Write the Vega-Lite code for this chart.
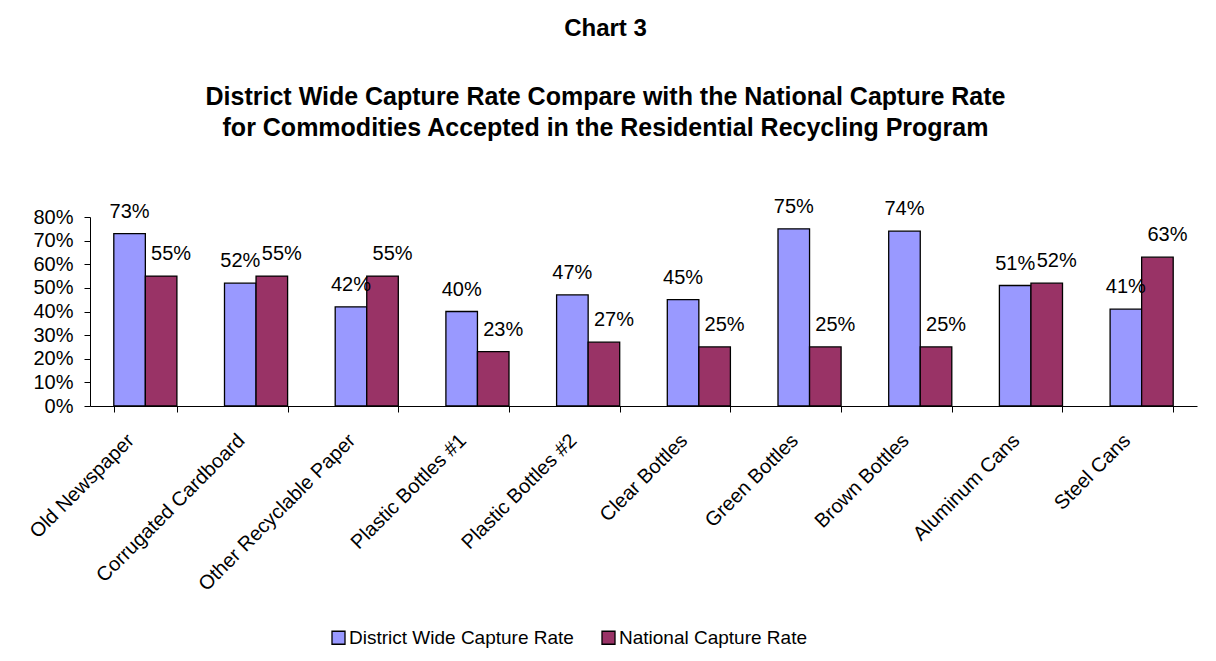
{
  "$schema": "https://vega.github.io/schema/vega-lite/v6.json",
  "width": 1107,
  "height": 189,
  "autosize": {"type": "none"},
  "padding": {"left": 90, "top": 217, "right": 19, "bottom": 255},
  "background": "white",
  "config": {
    "font": "Liberation Sans",
    "view": {"stroke": null},
    "axis": {"domainColor": "black", "tickColor": "black", "labelColor": "black", "grid": false, "labelFont": "Liberation Sans"}
  },
  "title": {
    "text": "Chart 3",
    "subtitle": ["District Wide Capture Rate Compare with the National Capture Rate", "for Commodities Accepted in the Residential Recycling Program"],
    "anchor": "middle",
    "frame": "group",
    "dx": -38,
    "font": "Liberation Sans",
    "fontSize": 24,
    "fontWeight": "bold",
    "color": "black",
    "subtitleFont": "Liberation Sans",
    "subtitleFontSize": 25,
    "subtitleFontWeight": "bold",
    "subtitleColor": "black",
    "subtitlePadding": 44,
    "subtitleLineHeight": 31,
    "offset": 56
  },
  "data": {
    "values": [
      {"commodity": "Old Newspaper", "series": "District Wide Capture Rate", "rate": 0.73},
      {"commodity": "Old Newspaper", "series": "National Capture Rate", "rate": 0.55},
      {"commodity": "Corrugated Cardboard", "series": "District Wide Capture Rate", "rate": 0.52},
      {"commodity": "Corrugated Cardboard", "series": "National Capture Rate", "rate": 0.55},
      {"commodity": "Other Recyclable Paper", "series": "District Wide Capture Rate", "rate": 0.42},
      {"commodity": "Other Recyclable Paper", "series": "National Capture Rate", "rate": 0.55},
      {"commodity": "Plastic Bottles #1", "series": "District Wide Capture Rate", "rate": 0.40},
      {"commodity": "Plastic Bottles #1", "series": "National Capture Rate", "rate": 0.23},
      {"commodity": "Plastic Bottles #2", "series": "District Wide Capture Rate", "rate": 0.47},
      {"commodity": "Plastic Bottles #2", "series": "National Capture Rate", "rate": 0.27},
      {"commodity": "Clear Bottles", "series": "District Wide Capture Rate", "rate": 0.45},
      {"commodity": "Clear Bottles", "series": "National Capture Rate", "rate": 0.25},
      {"commodity": "Green Bottles", "series": "District Wide Capture Rate", "rate": 0.75},
      {"commodity": "Green Bottles", "series": "National Capture Rate", "rate": 0.25},
      {"commodity": "Brown Bottles", "series": "District Wide Capture Rate", "rate": 0.74},
      {"commodity": "Brown Bottles", "series": "National Capture Rate", "rate": 0.25},
      {"commodity": "Aluminum Cans", "series": "District Wide Capture Rate", "rate": 0.51},
      {"commodity": "Aluminum Cans", "series": "National Capture Rate", "rate": 0.52},
      {"commodity": "Steel Cans", "series": "District Wide Capture Rate", "rate": 0.41},
      {"commodity": "Steel Cans", "series": "National Capture Rate", "rate": 0.63}
    ]
  },
  "encoding": {
    "x": {
      "field": "commodity",
      "type": "nominal",
      "sort": null,
      "scale": {"paddingInner": 0.43, "paddingOuter": 0.215},
      "axis": {"title": null, "labelAngle": -45, "labelFontSize": 20, "tickBand": "extent", "tickSize": 6, "labelPadding": 18, "labelOffset": -22, "labelLimit": 300}
    },
    "xOffset": {"field": "series", "type": "nominal", "sort": null, "scale": {"domain": ["District Wide Capture Rate", "National Capture Rate"], "paddingInner": 0, "paddingOuter": 0}},
    "y": {
      "field": "rate",
      "type": "quantitative",
      "scale": {"domain": [0, 0.8]},
      "axis": {"title": null, "format": ".0%", "values": [0, 0.1, 0.2, 0.3, 0.4, 0.5, 0.6, 0.7, 0.8], "labelFontSize": 20, "tickSize": 6, "labelPadding": 11}
    }
  },
  "layer": [
    {
      "mark": {"type": "bar", "stroke": "black", "strokeWidth": 1.3},
      "encoding": {
        "color": {
          "field": "series",
          "type": "nominal",
          "sort": null,
          "scale": {"domain": ["District Wide Capture Rate", "National Capture Rate"], "range": ["#9999FF", "#993366"]},
          "legend": {"title": null, "orient": "none", "legendX": 239, "legendY": 411, "direction": "horizontal", "symbolType": "square", "symbolSize": 169, "symbolStrokeColor": "black", "symbolStrokeWidth": 1.3, "labelFontSize": 19, "labelColor": "black", "labelFont": "Liberation Sans", "labelLimit": 400, "labelOffset": 1, "columnPadding": 25, "symbolOffset": 0}
        }
      }
    },
    {
      "transform": [{"filter": "datum.series === 'District Wide Capture Rate'"}],
      "mark": {"type": "text", "fontSize": 20, "baseline": "alphabetic", "dy": -16, "color": "black", "font": "Liberation Sans"},
      "encoding": {
        "text": {"field": "rate", "type": "quantitative", "format": ".0%"}
      }
    },
    {
      "transform": [{"filter": "datum.series === 'National Capture Rate'"}],
      "mark": {"type": "text", "fontSize": 20, "baseline": "alphabetic", "dy": -16, "dx": 10, "color": "black", "font": "Liberation Sans"},
      "encoding": {
        "text": {"field": "rate", "type": "quantitative", "format": ".0%"}
      }
    }
  ]
}
